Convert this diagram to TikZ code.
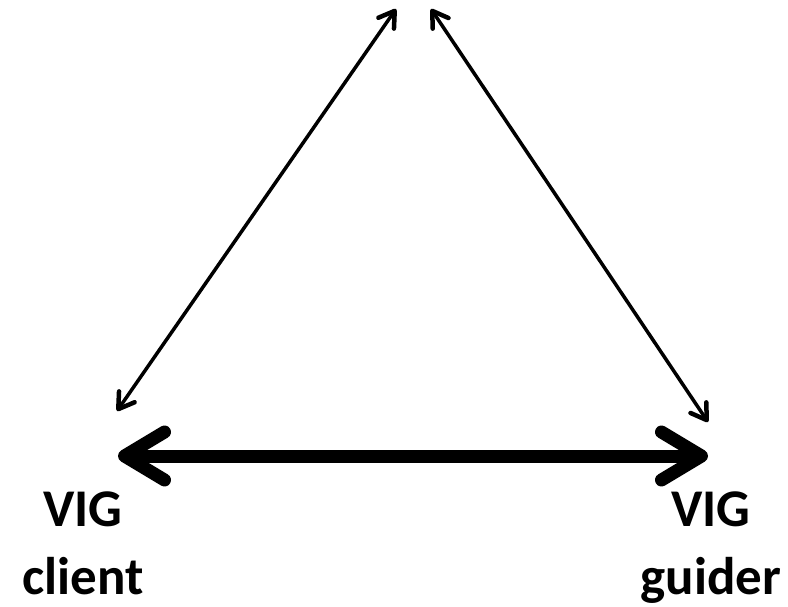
\documentclass[tikz,border=0pt]{standalone}
\usepackage{fontspec}
\setmainfont{Carlito}
\usetikzlibrary{arrows.meta}
\begin{document}
\begin{tikzpicture}[x=1pt,y=-1pt,
  thinhead/.tip={Straight Barb[length=15pt,width=19pt,line width=4.5pt,line cap=round,line join=round]},
  thickhead/.tip={Straight Barb[length=40pt,width=48pt,line cap=round,line join=round]},
  thinarrow/.style={line width=3.5pt,{thinhead}-{thinhead}},
  thickarrow/.style={line width=13pt,{thickhead}-{thickhead}},
  lbl/.style={font=\bfseries\fontsize{53}{68}\selectfont,align=center,inner sep=0pt,anchor=north}]
\useasboundingbox (0,0) rectangle (788,607);
\coordinate (topL) at (396,9);
\coordinate (topR) at (431,9);
\coordinate (botL) at (117,411);
\coordinate (botR) at (708,422);
\coordinate (client) at (118,456);
\coordinate (guider) at (708,456);
\draw[thinarrow] (botL) -- (topL);
\draw[thinarrow] (topR) -- (botR);
\draw[thickarrow] (client) -- (guider);
\node[lbl] (clientlbl) at (83,492) {VIG\\client};
\node[lbl] (guiderlbl) at (711,492) {VIG\\guider};
\end{tikzpicture}
\end{document}
